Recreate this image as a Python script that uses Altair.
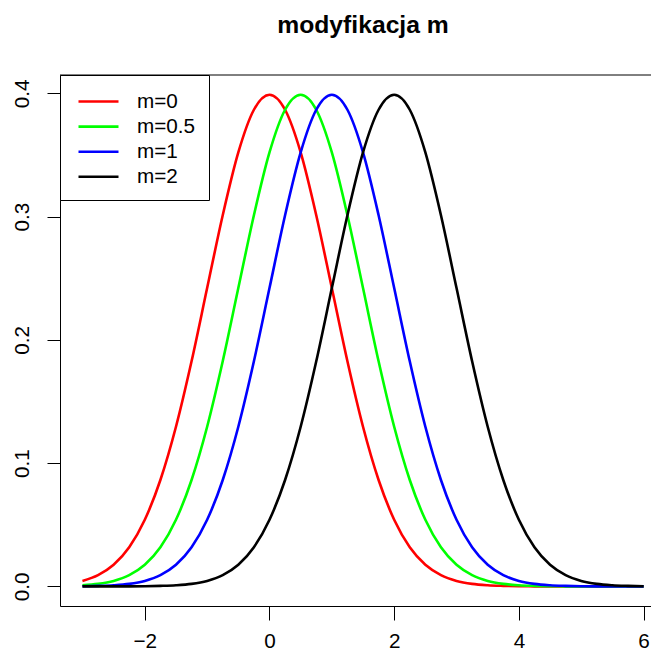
import altair as alt
import pandas as pd

# x grid shared by all curves
x_vals = [-3, -2.75, -2.5, -2.25, -2, -1.75, -1.5, -1.25, -1, -0.75, -0.5, -0.25,
          0, 0.25, 0.5, 0.75, 1, 1.25, 1.5, 1.75, 2, 2.25, 2.5, 2.75, 3, 3.25,
          3.5, 3.75, 4, 4.25, 4.5, 4.75, 5, 5.25, 5.5, 5.75, 6]

m0 = [0.0044, 0.0091, 0.0175, 0.0317, 0.0540, 0.0863, 0.1295, 0.1826, 0.2420,
      0.3011, 0.3521, 0.3867, 0.3989, 0.3867, 0.3521, 0.3011, 0.2420, 0.1826,
      0.1295, 0.0863, 0.0540, 0.0317, 0.0175, 0.0091, 0.0044, 0.0020, 0.0009,
      0.0004, 0.0001, 0, 0, 0, 0, 0, 0, 0, 0]

m05 = [0.0009, 0.0020, 0.0044, 0.0091, 0.0175, 0.0317, 0.0540, 0.0863, 0.1295,
       0.1826, 0.2420, 0.3011, 0.3521, 0.3867, 0.3989, 0.3867, 0.3521, 0.3011,
       0.2420, 0.1826, 0.1295, 0.0863, 0.0540, 0.0317, 0.0175, 0.0091, 0.0044,
       0.0020, 0.0009, 0.0004, 0.0001, 0, 0, 0, 0, 0, 0]

m1 = [0.0001, 0.0004, 0.0009, 0.0020, 0.0044, 0.0091, 0.0175, 0.0317, 0.0540,
      0.0863, 0.1295, 0.1826, 0.2420, 0.3011, 0.3521, 0.3867, 0.3989, 0.3867,
      0.3521, 0.3011, 0.2420, 0.1826, 0.1295, 0.0863, 0.0540, 0.0317, 0.0175,
      0.0091, 0.0044, 0.0020, 0.0009, 0.0004, 0.0001, 0, 0, 0, 0]

m2 = [0, 0, 0, 0, 0.0001, 0.0004, 0.0009, 0.0020, 0.0044, 0.0091, 0.0175, 0.0317,
      0.0540, 0.0863, 0.1295, 0.1826, 0.2420, 0.3011, 0.3521, 0.3867, 0.3989,
      0.3867, 0.3521, 0.3011, 0.2420, 0.1826, 0.1295, 0.0863, 0.0540, 0.0317,
      0.0175, 0.0091, 0.0044, 0.0020, 0.0009, 0.0004, 0.0001]

series_names = ["m=0", "m=0.5", "m=1", "m=2"]
series_colors = ["#FF0000", "#00FF00", "#0000FF", "#000000"]
series_values = [m0, m05, m1, m2]

x_ticks = [-2, 0, 2, 4, 6]
y_ticks = [0, 0.1, 0.2, 0.3, 0.4]

rows = []
for order, (name, ys) in enumerate(zip(series_names, series_values)):
    for xv, yv in zip(x_vals, ys):
        rows.append({"x": xv, "y": yv, "m": name, "o": order})
df = pd.DataFrame(rows)

FONT = "Liberation Sans"
W = 591
H = 531

lines = alt.Chart(df).mark_line(strokeWidth=2.6, interpolate="monotone", clip=True).encode(
    x=alt.X("x:Q",
            scale=alt.Scale(domain=[-3.36, 6.119], nice=False, zero=False),
            axis=alt.Axis(values=x_ticks, title=None, tickSize=14, labelPadding=27,
                          labelBaseline="alphabetic", labelFlush=False, labelOverlap=False)),
    y=alt.Y("y:Q",
            scale=alt.Scale(domain=[-0.015958, 0.4149], nice=False, zero=False),
            axis=alt.Axis(values=y_ticks, format=".1f", title=None, tickSize=13,
                          labelAngle=270, labelAlign="center", labelBaseline="alphabetic",
                          labelPadding=18.5, labelFlush=False, labelOverlap=False)),
    color=alt.Color("m:N",
                    scale=alt.Scale(domain=series_names, range=series_colors),
                    legend=alt.Legend(title=None,
                                      orient="top-left", offset=0,
                                      symbolType="M-1.709,0H1.709", symbolSize=548,
                                      symbolStrokeWidth=2.6, symbolOffset=12,
                                      symbolFillColor="transparent",
                                      labelOffset=25, labelFontSize=20.7, labelFont=FONT,
                                      labelColor="black", padding=13, rowPadding=1.1,
                                      strokeColor="black", fillColor="white")),
    order=alt.Order("o:Q"),
)

top_rule = alt.Chart(pd.DataFrame({"a": [0]})).mark_rule(color="black", strokeWidth=1).encode(
    x=alt.value(0), x2=alt.value(W), y=alt.value(0)
)

chart = alt.layer(top_rule, lines).properties(
    width=W,
    height=H,
    background="white",
    autosize=alt.AutoSizeParams(type="none"),
    padding={"left": 52, "top": 67, "right": 0, "bottom": 44},
    title=alt.Title("modyfikacja m", fontSize=24.7, fontWeight="bold", font=FONT,
                    anchor="middle", dx=7.5, baseline="alphabetic", offset=17, color="black"),
).configure_view(stroke=None).configure_axis(
    grid=False, domainColor="black", tickColor="black", labelColor="black",
    labelFont=FONT, labelFontSize=20.7, domainWidth=1, tickWidth=1,
)

chart.save("out.html", embed_options={"renderer": "svg", "actions": False})
